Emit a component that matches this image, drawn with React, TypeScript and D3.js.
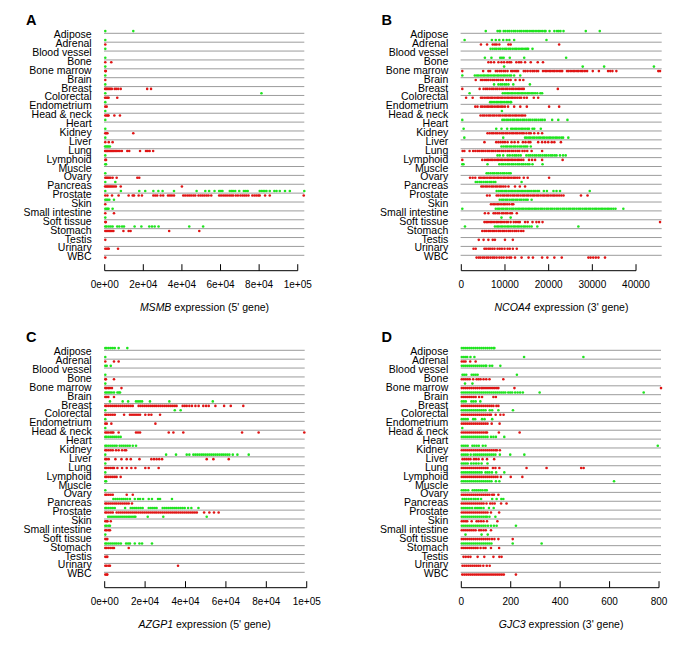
import React from 'react';
import * as d3 from 'd3';

const TISSUES = ['Adipose', 'Adrenal', 'Blood vessel', 'Bone', 'Bone marrow', 'Brain', 'Breast', 'Colorectal', 'Endometrium', 'Head & neck', 'Heart', 'Kidney', 'Liver', 'Lung', 'Lymphoid', 'Muscle', 'Ovary', 'Pancreas', 'Prostate', 'Skin', 'Small intestine', 'Soft tissue', 'Stomach', 'Testis', 'Urinary', 'WBC'];

// Panel A: MSMB (5' gene)
const msmbNormal: number[][] = [
  [300, 14800], [300], [300], [300], [300], [300], [300], [300, 81200], [300], [300], [300], [300], [300],
  [200, 800, 1400, 2000, 2700], [300], [300, 700], [300], [300, 5500],
  [300, 8400, 17900, 21000, 25200, 27800, 30000, 35900, 47600, 52100, 54100, 56900, 59300, 60200, 61000, 64800, 65700, 66500, 67600, 69700, 72100, 73100, 74100, 80300, 81200, 82100, 82900, 83800, 85500, 87900, 89000, 90700, 93400, 95900, 103400],
  [300, 900, 1600, 2400, 4800], [300, 900, 1500, 2000, 4100], [300],
  [300, 1000, 2100, 3100, 4100, 6500, 7600, 9000, 10000, 15500, 19000, 23100, 24500, 25900, 27900, 43800, 51000],
  [], [], []
];
const msmbTumor: number[][] = [
  [], [300], [], [300, 3400], [300, 600], [300],
  [200, 700, 1200, 1800, 2400, 3000, 3700, 5200, 6000, 7000, 8300, 22000, 24000],
  [200, 800, 1500, 2000, 6500], [300, 1000], [300, 900, 1600, 2000, 5000, 7900], [],
  [300, 800, 1400, 14800], [300, 2100, 4100],
  [200, 700, 1200, 1700, 2300, 2900, 3500, 4100, 4700, 5400, 6100, 6900, 7800, 8900, 11700, 12700, 18300, 21400, 22300, 23300, 25100],
  [300, 700], [], [300, 900, 1500, 2200, 3000, 4100, 6200, 16900, 17900],
  [200, 800, 1400, 2000, 2700, 3400, 4100, 4900, 5800, 8300, 40000],
  [300, 1400, 3800, 7200, 12400, 14500, 15200, 17600, 19300, 25200, 26200, 27200, 29000, 30300, 32800, 33800, 34800, 35900, 40700, 41700, 42800, 43800, 44800, 45900, 46900, 48600, 49700, 50700, 51700, 52800, 53800, 55200, 59300, 60300, 61400, 62400, 63400, 64500, 65500, 66500, 67900, 69000, 70300, 71400, 72400, 73400, 74500, 76500, 77600, 78600, 79600, 80300, 83100, 85500, 103100],
  [300], [300, 4800], [300, 600],
  [300, 1000, 1700, 2400, 3100, 3800, 4500, 9700, 12400, 13400, 33400, 49000],
  [300], [300, 1000, 1700, 2100, 6900], [300]
];

// Panel B: NCOA4 (3' gene)
const ncoa4Normal: number[][] = [
  [5600, 8300, 8700, 8900, 9700, 10100, 10600, 11000, 11500, 12000, 12400, 12900, 13400, 13800, 14300, 14800, 15200, 15700, 16200, 16600, 17100, 17600, 18000, 18500, 19000, 19300, 20200, 21300, 21900, 22300, 22700, 23400, 28500, 31700],
  [760, 7000, 7900, 8700, 9600, 10400, 11000, 12100, 19500],
  [6700, 7200, 7700, 8100, 8600, 9000, 9500, 10000, 10400, 10900, 11300, 11800, 12300, 12700, 13200, 13700, 14100, 14600, 15000, 15300, 16300],
  [5400, 6900, 8900, 9300, 9700, 11100, 14400, 24000],
  [9800, 27800, 32700, 44100],
  [230, 3100, 3600, 4000, 4500, 5000, 5400, 5900, 6300, 6800, 7300, 7700, 8200, 8600, 9100, 9600, 10000, 10500, 11000, 11400, 12100, 13500],
  [7500, 8500, 9000, 9400, 9900, 10300, 10800, 11900, 15700],
  [1900, 9500, 10000, 10500, 10900, 11400, 11800, 12300, 12800, 13200, 13700, 14100, 14600, 15100, 15500, 16000, 16400, 16900, 17400, 18100, 18500],
  [6600, 7000, 7500, 8000, 8400, 8900, 9300, 9800, 10300, 10700, 11200, 11400],
  [9300],
  [230, 9400, 9800, 10300, 10700, 11200, 11700, 12100, 12600, 13000, 13500, 14000, 14400, 14900, 15400, 15800, 16300, 16800, 17200, 17700, 18200, 18600, 19100, 20800, 22200, 24300],
  [530, 8000, 9200, 10500, 11400, 11800, 12300, 12700, 13200, 13700, 14100, 14600, 15100, 15500, 16300, 16700, 18200],
  [690, 9600, 14600, 15000, 15500, 15900, 16400, 16800, 17300, 17800, 18200, 18700, 19100, 19600, 20100, 20500, 21000, 21500, 21900, 22400, 22900, 23300, 24500],
  [9200, 9700, 10200, 10600, 11100, 11500, 12000, 12400, 12900, 13400, 13800, 14300, 14700, 15100, 15900],
  [8300, 8800, 9600, 10600, 11100, 11700, 12200, 12600, 13100, 13600, 14900, 15400, 15800, 16300, 16800, 17200, 17700, 18100, 18600, 19100, 19500, 20000, 20500, 20900, 21400, 21800, 22600, 23300, 23900],
  [230, 500, 6000, 8700, 9200, 9600, 10100, 10600, 11000, 11500, 11900, 12400, 12900, 13300, 13800, 14200, 14700, 15200, 15600, 16300, 18600],
  [5800, 6200, 6700, 7200, 7600, 8100, 8500, 9000, 9500, 9900, 10400, 10900, 11300],
  [3300, 3700, 4200, 4600, 5100, 5600, 6000, 6500, 6900, 7400, 7800, 13800],
  [8100, 8600, 9100, 9500, 10000, 10400, 10900, 11400, 11800, 12300, 12800, 13200, 13700, 14100, 14600, 15100, 15500, 16000, 16500, 16900, 17400, 17800, 18900, 19600, 21100, 21800, 22600, 29400],
  [8800, 9300, 9700, 10200, 10600, 11100, 11600, 12000, 12500, 12900, 13400, 13800, 14300, 14800, 15200, 16100],
  [230, 7900, 8400, 8800, 9300, 9700, 10200, 10600, 11100, 11600, 12000, 12500, 13000, 13400, 13900, 14300, 14800, 15300, 15700, 16200, 16700, 17100, 17600, 18100, 18500, 19000, 19500, 19900, 20400, 20800, 21300, 21800, 22200, 22700, 23200, 23600, 24100, 24600, 25000, 25500, 25900, 26400, 26900, 27300, 27800, 28300, 28700, 29200, 29600, 30100, 30600, 31000, 31500, 32000, 32400, 32900, 33400, 33800, 34300, 34800, 35300, 37100],
  [9200, 11300],
  [840, 7700, 8200, 8600, 9100, 9500, 10000, 10500, 10900, 11400, 11900, 12300, 12800, 13200, 13700, 14200, 14600, 15100, 15600, 16100, 17400, 26800],
  [], [], []
];
const ncoa4Tumor: number[][] = [
  [],
  [4500, 5900, 7200, 7700, 8100, 8700, 10800, 11300, 22400],
  [],
  [6200, 6800, 7500, 8500, 9200, 9800, 10500, 11000, 11400, 12600, 13200, 13700, 14600, 15900, 17500, 18700],
  [230, 5000, 6200, 6600, 7900, 8300, 8800, 9200, 9700, 10100, 10600, 11400, 11800, 12300, 12700, 13000, 14300, 14700, 15200, 15800, 16300, 16700, 17200, 17600, 18700, 19200, 19600, 20100, 20500, 21000, 21400, 21900, 22400, 22800, 23100, 24200, 24600, 25100, 25600, 26000, 26500, 26900, 27400, 27800, 28300, 28800, 30100, 31500, 33600, 34100, 34600, 35500, 45100, 45500],
  [3300, 4500, 4900, 5400, 5800, 6200, 6700, 7200, 7600, 8100, 8500, 9000, 9500, 10300, 10800, 11300, 12400, 13400, 14200],
  [230, 4200, 5100, 5600, 6000, 6500, 7000, 7400, 7900, 8300, 8800, 9300, 9700, 10200, 10600, 11100, 11600, 12000, 12500, 13000, 13400, 13900, 14300, 22100],
  [1100, 2600, 4500, 4900, 5400, 5900, 6300, 6800, 7200, 7700, 8200, 8600, 9100, 9500, 10000, 10500, 10900, 11400, 11800, 12300, 12800, 13300, 13700, 14400, 15000, 16600, 17600],
  [3200, 3700, 4500, 4900, 5400, 5900, 6300, 6800, 7200, 7700, 8200, 8600, 9100, 9500, 10000, 10700, 12100, 13500, 15000, 20100, 22400],
  [4400, 4900, 5300, 5800, 6300, 6700, 7200, 7600, 8100, 8600, 9000, 9500, 10000, 10400, 10900, 11300, 11800, 12300, 12700, 13200, 13700, 14100, 14600],
  [],
  [6000, 6500, 7000, 7400, 7900, 8300, 8800, 9300, 9700, 10200, 10600, 11100, 11600, 12000, 12500, 12900, 13400, 13900, 14300, 14900, 15500, 15900, 16700, 17600, 18500],
  [5300, 8000, 8500, 9000, 9500, 10000, 10600, 11500, 12200, 13000, 14100, 14700, 15400, 15800, 17600, 18500, 19200, 19900, 20700, 21300, 22800],
  [300, 700, 1900, 2700, 3200, 3700, 4100, 4600, 5000, 5500, 6000, 6400, 6900, 7300, 7800, 8300, 8700, 9200, 9600, 10100, 10600, 11000, 11500, 11900, 12400, 12900, 13300, 14000, 14500, 15100, 16100, 18500],
  [230, 4800, 5400, 5900, 6300, 6800, 7200, 7700, 8200, 8600, 9100, 9500, 10000, 10500, 10900, 11400, 11800, 12300, 12800, 13200, 13700, 14200, 15500, 16200, 16900, 18500, 23200],
  [],
  [2000, 2600, 3200, 4100, 4500, 5000, 5400, 5900, 6400, 6800, 7300, 7700, 8200, 8600, 9100, 9600, 10000, 10500, 10900, 11400, 11900, 12300, 12800, 13300, 14300, 15200, 20100],
  [4600, 5000, 5500, 5900, 6400, 6900, 7300, 7800, 8200, 8700, 9100, 9600, 10100, 10800, 12300, 13400, 14600],
  [5900, 6500, 8100, 8500, 9000, 9500, 9900, 10400, 10800, 11300, 11800, 12200, 12700, 13100, 13600, 14100, 14500, 15000, 15400, 15900, 16400, 16800, 17300, 17700, 18200, 18700, 19100, 19600, 20000, 20500, 21000, 21400, 21900, 22400, 22900, 23400, 27400, 28900],
  [6800, 7300, 7700, 8200, 8600, 9100, 9600, 10000, 10500, 11000, 11600, 11900],
  [5400, 6200, 7400, 7800, 8300, 8700, 9300, 9700, 10200, 10600, 11200, 11600, 12700],
  [5300, 5700, 6100, 6600, 7000, 7500, 8000, 8400, 8900, 9300, 9800, 10300, 10700, 11300, 12000, 12500, 13000, 13400, 14600, 15200, 16300, 17200, 17800, 18600, 45500],
  [4800, 5300, 5700, 6200, 6600, 7100, 7500, 8000, 8500, 8900, 9400, 9800, 10300, 10800, 11200, 11700, 12200, 12600, 13100, 13700, 14200],
  [4000, 5100, 6200, 7200, 7700, 10000, 11800],
  [2800, 3300, 5300, 5700, 6200, 6600, 7100, 7600, 8300, 8800, 9300, 9900, 10600, 11100, 11800, 12700],
  [3500, 4000, 4400, 4900, 5300, 5800, 6200, 6700, 7200, 7600, 8100, 8700, 9200, 9700, 10400, 11000, 11400, 12300, 13800, 15400, 16400, 18500, 19700, 21300, 23000, 29100, 29600, 30200, 30800, 31400, 32900]
];

// Panel C: AZGP1 (5' gene)
const azgp1Normal: number[][] = [
  [300, 1000, 2000, 3000, 4000, 5000, 6900, 11200],
  [300], [300, 1000, 3000], [300], [300],
  [300, 1000, 1800, 2600, 3500, 4600, 6300, 7000, 7600],
  [2600, 8900, 11600, 15500, 16500, 17500, 18500, 22400, 32000, 53500],
  [300, 34700, 37600], [300], [300],
  [300, 1000, 2000, 3000, 4000, 5000, 5900, 6900, 7900],
  [300, 1000, 2000, 3000, 4000, 5000, 5900, 7400, 8400, 9400, 10400, 11400, 12400, 13900, 15500],
  [300, 30400, 35300, 40600, 41900, 43900, 44900, 45900, 46900, 47900, 48800, 49800, 50800, 51800, 52800, 53800, 54800, 55800, 56800, 57800, 58700, 59700, 60700, 61700, 63400, 65700, 71300],
  [300], [300], [300, 700], [300],
  [4300, 5300, 6300, 7300, 8300, 9200, 10200, 11200, 12500, 14900, 16500, 17500, 19000, 21800, 23400, 26400, 27400, 33300],
  [300, 1000, 2000, 3000, 4000, 5000, 10100, 12900, 13900, 14900, 15800, 16800, 17800, 18800, 21800, 22800, 23800, 24800, 25700, 28700, 29700, 30700, 31700, 32700, 33700, 34700, 35600, 36600, 37600, 38600, 39600, 41300, 42900, 46400],
  [1700, 2600, 3600, 4600, 5600, 6600, 7600, 8600, 9600, 10600, 11600, 12500, 13500, 14500, 15200, 21300, 29000, 50500],
  [300, 1000, 2000, 2600], [300],
  [300, 1000, 2000, 3000, 4000, 5000, 5900, 6900, 8000, 10600, 11600, 12500, 14900, 17200, 18500, 23400],
  [], [], []
];
const azgp1Tumor: number[][] = [
  [], [300, 4600, 6900], [], [300, 600, 4600], [300, 1000, 1800, 2600, 3600, 8300], [300, 1000, 1800, 4600],
  [300, 1000, 2000, 3000, 4000, 5000, 5900, 6900, 7900, 8900, 9900, 10900, 11900, 12900, 13900, 16800, 17800, 18800, 19800, 20800, 21800, 22800, 23800, 24800, 25700, 26700, 27700, 28700, 29700, 30700, 31700, 32700, 33700, 34700, 35600, 38600, 39600, 40600, 41900, 43200, 44900, 46500, 48800, 50200, 51500, 54800, 59100, 62400, 68600],
  [300, 1000, 2000, 3000, 4000, 5000, 9600, 12500, 13500, 14500, 15500, 16500, 17500, 20100, 21800, 23100, 27400],
  [300, 1000, 3300, 25100],
  [300, 1000, 1800, 2800, 3600, 4300, 6900, 15500, 16500, 17500, 31700, 34000, 38900, 68000, 76200, 98800],
  [],
  [300, 1000, 2000, 3000, 4000, 5600, 6900, 8600, 9900, 10600],
  [300, 1000, 2000, 5300, 8300, 10900, 12900, 17200, 23100, 24400, 25700, 27000, 28400, 50500, 53800, 61400],
  [300, 1000, 2000, 3000, 4000, 4600, 6300, 8600, 10900, 13200, 15200, 20100, 21800, 26700],
  [300, 1000, 2000, 3000, 4000, 5000, 5900, 7900],
  [],
  [300, 1000, 2000, 3000, 4000, 10900, 13900],
  [300, 1000, 2000, 3000, 4000, 5000, 5900, 6900, 7900, 8900, 9900, 10900, 11900, 13500],
  [300, 1000, 2000, 3000, 4000, 5900, 6900, 7900, 8900, 9900, 10900, 11900, 12900, 13900, 14900, 15800, 16800, 17800, 18800, 19800, 20800, 21800, 22800, 23800, 24800, 25700, 26700, 27700, 28700, 29700, 30700, 31700, 32700, 33700, 34700, 35600, 36600, 37600, 38600, 39600, 40600, 41600, 42600, 43600, 44600, 45600, 49200, 51800, 54100, 56400],
  [300, 1000, 1400, 3000],
  [300, 1000, 2000, 2600],
  [300, 1000, 1300],
  [300, 1000, 2000, 3000, 4000, 4600, 11900],
  [300, 1000, 1300],
  [300, 1000, 2000, 2600, 36300],
  [300, 1000, 1300]
];

// Panel D: GJC3 (3' gene)
const gjc3Normal: number[][] = [
  [2, 10, 18, 26, 34, 42, 50, 58, 66, 74, 82, 90, 98, 106, 114, 122, 130, 134],
  [2, 10, 18, 24, 37, 53, 254, 494],
  [2, 10, 18, 26, 34, 42, 50, 58, 66, 74, 82, 90, 98, 101, 115, 125, 158],
  [5, 12, 20, 42, 50, 58, 66, 225],
  [15, 45],
  [2, 10, 18, 26, 34, 42, 50, 58, 66, 74, 82, 90, 98, 106, 114, 122, 130, 138, 146, 154, 162, 170, 178, 190, 198, 206, 218, 228, 238, 249, 317, 738],
  [2, 10, 18, 41, 49, 58, 77],
  [2, 10, 18, 26, 34, 42, 50, 58, 66, 74, 82, 90, 98, 115, 125, 150, 209],
  [2, 10, 18, 26, 48, 56, 84, 94, 125],
  [4],
  [2, 10, 18, 26, 34, 42, 50, 58, 66, 74, 82, 90, 98, 106, 120, 130, 140, 174],
  [2, 10, 18, 26, 45, 53, 62, 71, 87, 98, 795],
  [2, 10, 18, 26, 38, 50, 58, 66, 74, 82, 90, 98, 106, 114, 122, 130, 138, 156, 198, 255],
  [2, 10, 18, 26, 40, 50, 60, 70, 82, 106],
  [2, 10, 18, 26, 34, 42, 50, 58, 66, 74, 82, 98, 106, 114, 124, 141, 174],
  [2, 10, 18, 26, 34, 42, 50, 58, 66, 74, 82, 90, 98, 106, 114, 122, 140, 154, 618],
  [2, 10, 18, 28, 46, 54, 62, 70, 78, 86, 96, 103],
  [5, 13, 21, 30, 40, 50, 58, 68, 80, 125, 143, 162, 170],
  [2, 10, 18, 26, 34, 44, 56, 64, 72, 80, 90, 112, 131],
  [2, 10, 18, 26, 34, 42, 50, 58, 66, 74, 82, 90, 98, 104, 114, 138],
  [2, 10, 18, 26, 34, 42, 50, 58, 66, 74, 82, 90, 98, 108, 120, 132, 143, 221],
  [17, 82, 107],
  [2, 10, 18, 26, 34, 42, 50, 58, 66, 74, 82, 90, 98, 106, 114, 122, 208, 325],
  [], [], []
];
const gjc3Tumor: number[][] = [
  [],
  [2, 10, 17, 36, 58],
  [],
  [2, 10, 18, 26, 34, 48, 62, 70, 78, 90, 101, 114, 170],
  [2, 10, 18, 26, 34, 42, 50, 58, 66, 74, 82, 88, 96, 104, 112, 120, 128, 136, 144, 150, 215, 808],
  [2, 10, 18, 26, 34, 42, 50, 58, 72, 84, 130, 140],
  [2, 10, 18, 26, 34, 42, 50, 58, 66, 74, 82, 90, 98, 106, 114, 122, 130, 142, 150],
  [2, 10, 18, 26, 34, 42, 50, 58, 66, 74, 82, 90, 98, 106, 114, 120, 139, 158, 171],
  [2, 10, 18, 26, 34, 42, 50, 58, 66, 74, 82, 90, 98, 106, 123, 155],
  [2, 10, 18, 26, 34, 42, 50, 58, 66, 74, 82, 90, 98, 104, 152, 236],
  [],
  [2, 10, 18, 26, 34, 42, 50, 58, 66, 74, 82, 90, 98, 106, 114, 122, 130, 138, 144, 156],
  [5, 13, 21, 29, 37, 51, 60, 70, 86, 104, 133],
  [2, 10, 18, 26, 34, 42, 50, 58, 66, 74, 82, 90, 98, 106, 128, 138, 154, 264, 345, 485, 495],
  [2, 10, 18, 26, 34, 42, 50, 58, 66, 74, 82, 90, 98, 106, 114, 122, 130, 138, 146, 160, 200, 247],
  [],
  [2, 10, 18, 26, 34, 42, 50, 58, 66, 74, 82, 90, 98, 106, 114, 125, 132, 150],
  [2, 10, 18, 26, 34, 42, 50, 58, 66, 74, 82, 90, 102, 117, 126, 135, 161, 183],
  [2, 10, 18, 26, 34, 42, 50, 58, 66, 74, 82, 90, 98, 106, 120, 153],
  [2, 10, 18, 24, 42, 62, 70, 80, 90, 104, 146],
  [2, 10, 18, 26, 34, 42, 50, 58, 72, 80, 90, 99, 120],
  [2, 10, 18, 26, 34, 42, 50, 58, 66, 74, 82, 90, 98, 106, 114, 124, 134, 150, 208],
  [2, 10, 18, 26, 34, 42, 50, 58, 66, 78, 90, 98, 120, 153],
  [9, 18, 28, 37, 66, 93, 130, 154, 163],
  [5, 13, 21, 29, 37, 45, 53, 61, 69, 77, 89, 103, 115],
  [4, 12, 20, 28, 36, 44, 52, 60, 68, 76, 84, 92, 100, 108, 116, 124, 132, 140, 148, 156, 164, 172, 221]
];

const sciTicks = [0, 20000, 40000, 60000, 80000, 100000];
const ncoa4Ticks = [0, 10000, 20000, 30000, 40000];
const gjc3Ticks = [0, 200, 400, 600, 800];

const FONT = '"Liberation Sans", Arial, Helvetica, sans-serif';
const GREEN = '#1ee41e';
const RED = '#e01414';
const ROW_GAP = 8.88;

const sciFmt = (v: number) => d3.format('.0e')(v).replace(/e([+-])(\d)$/, 'e$10$2');
const plainFmt = (v: number) => String(v);

type PanelProps = {
  letter: string;
  normal: number[][];
  tumor: number[][];
  xMax: number;
  xLeft: number;
  xRight: number;
  top: number;
  ticks: number[];
  fmt: (v: number) => string;
  gene: string;
  end: string;
  labelRight: number;
  letterX: number;
};

function Panel(p: PanelProps) {
  const x = d3.scaleLinear().domain([0, p.xMax]).range([p.xLeft, p.xRight]);
  const y = d3.scalePoint<string>().domain(TISSUES).range([p.top, p.top + 25 * ROW_GAP]);
  const axisY = p.top + 237.4;
  const lastTick = p.ticks[p.ticks.length - 1];
  return (
    <g>
      <text x={p.letterX} y={p.top - 8.6} fontFamily={FONT} fontWeight="bold" fontSize={14.5} fill="#000">{p.letter}</text>
      {TISSUES.map((t) => (
        <line key={'l' + t} x1={x(0) - 0.7} x2={p.xRight} y1={y(t)!} y2={y(t)!} stroke="#9c9c9c" strokeWidth={1} />
      ))}
      {TISSUES.map((t) => (
        <text key={'t' + t} x={p.labelRight} y={y(t)! + 1} textAnchor="end" dominantBaseline="central" fontFamily={FONT} fontSize={10.5} fill="#000">{t}</text>
      ))}
      {TISSUES.map((t, i) => (
        <g key={'n' + t}>
          {p.normal[i].map((v, j) => (
            <circle key={j} cx={x(v)} cy={y(t)! - 2.2} r={1.3} fill={GREEN} />
          ))}
        </g>
      ))}
      {TISSUES.map((t, i) => (
        <g key={'r' + t}>
          {p.tumor[i].map((v, j) => (
            <circle key={j} cx={x(v)} cy={y(t)! + 2.3} r={1.3} fill={RED} />
          ))}
        </g>
      ))}
      <line x1={x(0)} x2={x(lastTick)} y1={axisY} y2={axisY} stroke="#000" strokeWidth={1} />
      {p.ticks.map((tv) => (
        <g key={'k' + tv}>
          <line x1={x(tv)} x2={x(tv)} y1={axisY} y2={axisY - 6.5} stroke="#000" strokeWidth={1} />
          <text x={x(tv)} y={axisY + 13.3} textAnchor="middle" dominantBaseline="central" fontFamily={FONT} fontSize={10} fill="#000">{p.fmt(tv)}</text>
        </g>
      ))}
      <text x={(p.xLeft + p.xRight) / 2} y={p.top + 273.5} textAnchor="middle" dominantBaseline="central" fontFamily={FONT} fontSize={10.5} fill="#000">
        <tspan fontStyle="italic">{p.gene}</tspan>
        <tspan>{' expression (' + p.end + "' gene)"}</tspan>
      </text>
    </g>
  );
}

export default function App() {
  return (
    <svg width={685} height={651} style={{ position: 'absolute', left: 0, top: 0, background: '#fff' }}>
      <rect x={0} y={0} width={685} height={651} fill="#fff" />
      <Panel letter="A" normal={msmbNormal} tumor={msmbTumor} xMax={103400} xLeft={104.7} xRight={304.3} top={33.3}
        ticks={sciTicks} fmt={sciFmt} gene="MSMB" end="5" labelRight={91.7} letterX={26} />
      <Panel letter="B" normal={ncoa4Normal} tumor={ncoa4Tumor} xMax={45880} xLeft={461.3} xRight={661.7} top={33.3}
        ticks={ncoa4Ticks} fmt={plainFmt} gene="NCOA4" end="3" labelRight={448.3} letterX={381.5} />
      <Panel letter="C" normal={azgp1Normal} tumor={azgp1Tumor} xMax={99000} xLeft={104.7} xRight={304.7} top={350.3}
        ticks={sciTicks} fmt={sciFmt} gene="AZGP1" end="5" labelRight={91.7} letterX={26} />
      <Panel letter="D" normal={gjc3Normal} tumor={gjc3Tumor} xMax={808} xLeft={461.3} xRight={661} top={350.3}
        ticks={gjc3Ticks} fmt={plainFmt} gene="GJC3" end="3" labelRight={448.3} letterX={381.5} />
    </svg>
  );
}
